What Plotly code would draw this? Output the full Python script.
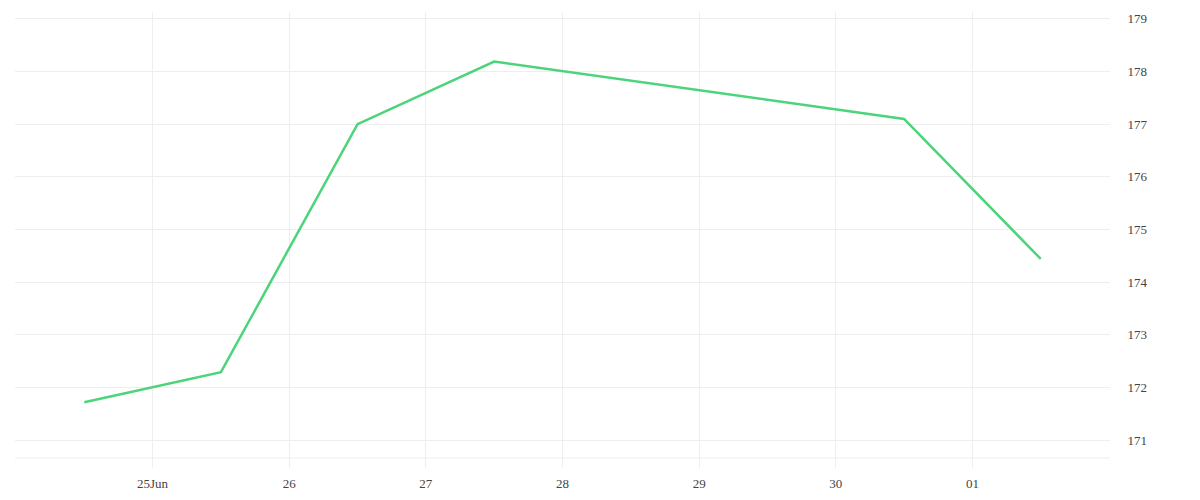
import plotly.graph_objects as go

dates = ["2024-06-24 12:00", "2024-06-25 12:00", "2024-06-26 12:00", "2024-06-27 12:00",
         "2024-06-30 12:00", "2024-07-01 12:00"]
values = [171.72, 172.29, 177.0, 178.19, 177.10, 174.44]

tick_dates = ["2024-06-24", "2024-06-25", "2024-06-26", "2024-06-27", "2024-06-28",
              "2024-06-29", "2024-06-30", "2024-07-01", "2024-07-02"]
tick_labels = ["", "25Jun", "26", "27", "28", "29", "30", "01", ""]
y_ticks = [171, 172, 173, 174, 175, 176, 177, 178, 179]

font = dict(family="Liberation Serif, DejaVu Serif, serif", size=13, color="#444444")

fig = go.Figure()
fig.add_trace(go.Scatter(x=dates, y=values, mode="lines",
                         line=dict(color="#4cd47a", width=2.5), hoverinfo="x+y"))

fig.update_layout(
    width=1184, height=484,
    margin=dict(l=7, r=82, t=4, b=24),
    paper_bgcolor="white", plot_bgcolor="white",
    showlegend=False, font=font,
    xaxis=dict(range=["2024-06-23 23:50", "2024-07-02 00:10"], tickvals=tick_dates,
               ticktext=tick_labels, showgrid=True, gridcolor="#eeeeee", gridwidth=1,
               zeroline=False, showline=False, ticks="outside", ticklen=3,
               tickcolor="rgba(0,0,0,0)", tickfont=font, automargin=False),
    yaxis=dict(range=[170.47, 179.13], tickvals=y_ticks, side="right",
               showgrid=True, gridcolor="#eeeeee", gridwidth=1, zeroline=False,
               showline=False, ticks="outside", ticklen=14, tickcolor="rgba(0,0,0,0)",
               tickfont=font, automargin=False),
    shapes=[dict(type="line", xref="paper", yref="paper", x0=0, x1=1,
                 y0=10 / 456, y1=10 / 456, line=dict(color="#eeeeee", width=1))],
)

fig.write_html("out.html")
